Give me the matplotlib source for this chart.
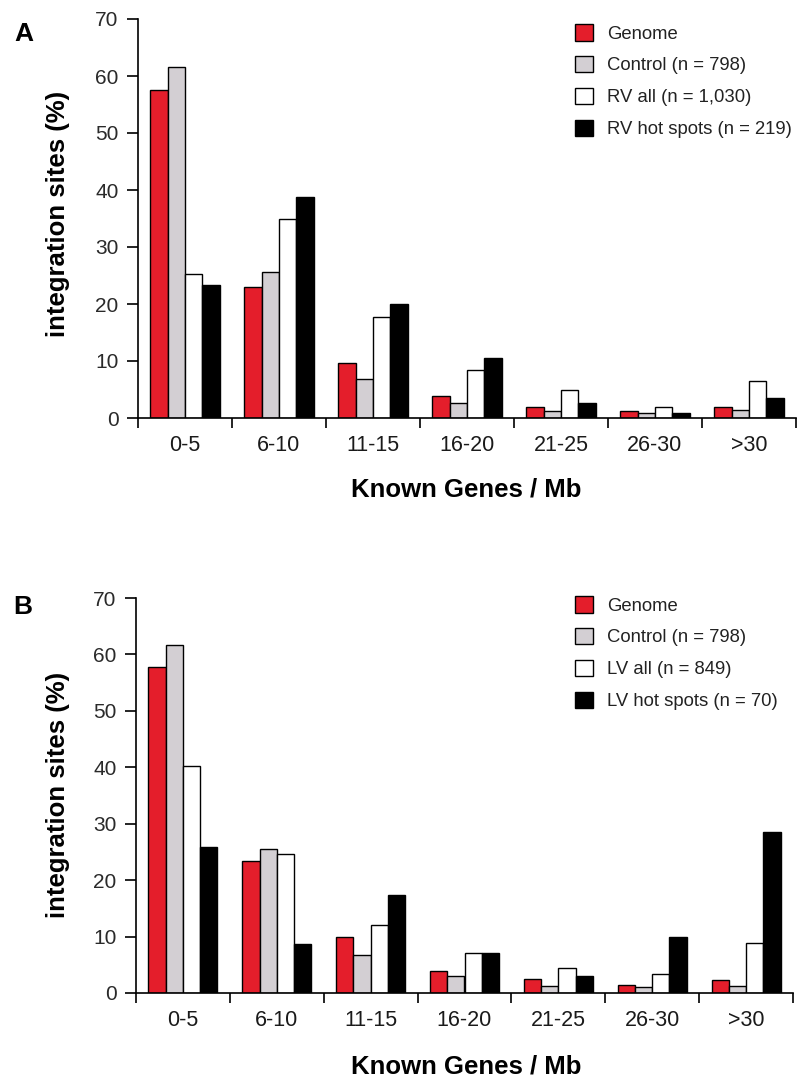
import matplotlib
matplotlib.use('Agg')
import matplotlib.pyplot as plt
import numpy as np
from matplotlib.patches import Patch

plt.rcParams['font.family'] = ['Liberation Sans', 'DejaVu Sans']

categories = ['0-5', '6-10', '11-15', '16-20', '21-25', '26-30', '>30']

# panel A
genomeA = [57.6, 23.0, 9.7, 3.8, 2.0, 1.2, 2.0]
controlA = [61.5, 25.6, 6.8, 2.6, 1.2, 0.8, 1.4]
rvAll = [25.3, 34.9, 17.8, 8.4, 5.0, 2.0, 6.5]
rvHot = [23.3, 38.7, 20.0, 10.6, 2.7, 0.9, 3.5]
labelsA = ['Genome', 'Control (n = 798)', 'RV all (n = 1,030)', 'RV hot spots (n = 219)']

# panel B
genomeB = [57.7, 23.4, 9.9, 3.9, 2.4, 1.4, 2.3]
controlB = [61.6, 25.6, 6.8, 3.0, 1.3, 1.1, 1.3]
lvAll = [40.2, 24.6, 12.1, 7.1, 4.5, 3.3, 8.9]
lvHot = [25.9, 8.6, 17.3, 7.1, 3.0, 9.9, 28.6]
labelsB = ['Genome', 'Control (n = 798)', 'LV all (n = 849)', 'LV hot spots (n = 70)']

colors = ['#e41e2b', '#d3cfd3', 'white', 'black']

W, H = 797, 1079
fig = plt.figure(figsize=(W / 100, H / 100), dpi=100)


def draw_panel(rect, series, labels, letter, letter_xy, legend_xy, ylabel_y, xlabel_y):
    ax = fig.add_axes(rect)
    x = np.arange(len(categories))
    w = 0.184
    for i, vals in enumerate(series):
        ax.bar(x + (i - 1.5) * w, vals, w, color=colors[i], edgecolor='black',
               linewidth=1.0, zorder=2)
    ax.set_xlim(-0.5, len(categories) - 0.5)
    ax.set_ylim(0, 70)
    ax.set_yticks(range(0, 71, 10))
    ax.set_xticks(x)
    ax.set_xticklabels(categories)
    ax.set_xticks(np.arange(-0.5, len(categories)), minor=True)
    ax.tick_params(axis='x', which='major', length=0, pad=12, labelsize=15.5, labelcolor='#1a1a1a')
    ax.tick_params(axis='x', which='minor', length=7, width=1.2, direction='out')
    ax.tick_params(axis='y', length=8, width=1.2, pad=6, labelsize=15, labelcolor='#2a2a2a')
    ax.spines['top'].set_visible(False)
    ax.spines['right'].set_visible(False)
    ax.spines['left'].set_linewidth(1.2)
    ax.spines['bottom'].set_linewidth(1.2)

    fig.text(58 / W, 1 - ylabel_y / H, 'integration sites (%)', rotation=90,
             ha='center', va='center', fontsize=18.5, fontweight='bold')
    fig.text(466 / W, 1 - xlabel_y / H, 'Known Genes / Mb',
             ha='center', va='center', fontsize=18.5, fontweight='bold')
    fig.text(letter_xy[0] / W, 1 - letter_xy[1] / H, letter,
             ha='center', va='center', fontsize=19, fontweight='bold')

    handles = [Patch(facecolor=c, edgecolor='black', linewidth=1.0) for c in colors]
    fig.legend(handles, labels, loc='upper left',
               bbox_to_anchor=(legend_xy[0] / W, 1 - legend_xy[1] / H),
               frameon=False, fontsize=13.3, handlelength=1.0, handleheight=1.0,
               handletextpad=0.75, labelspacing=0.72, borderpad=0, borderaxespad=0,
               labelcolor='#222222')
    return ax


draw_panel([138 / W, 1 - 418 / H, 658 / W, 399 / H],
           [genomeA, controlA, rvAll, rvHot], labelsA, 'A', (24, 34), (575, 24), 214, 490)
draw_panel([136 / W, 1 - 993 / H, 657 / W, 395 / H],
           [genomeB, controlB, lvAll, lvHot], labelsB, 'B', (23, 607), (575, 596), 795, 1067)

fig.savefig('out.png', dpi=100)
